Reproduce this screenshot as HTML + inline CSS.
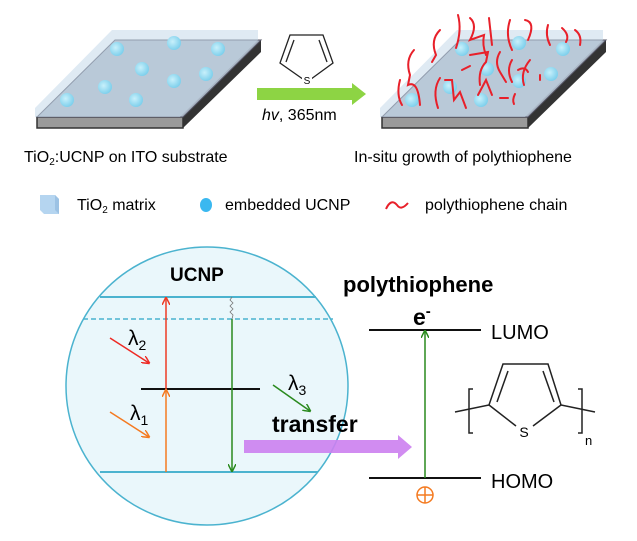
<!DOCTYPE html>
<html><head><meta charset="utf-8"><style>
body{margin:0;background:#fff;}
svg{display:block;font-family:"Liberation Sans",sans-serif;}
</style></head><body>
<svg width="637" height="541" viewBox="0 0 637 541" xmlns="http://www.w3.org/2000/svg">
<defs>
<radialGradient id="dot" cx="40%" cy="40%" r="60%"><stop offset="0" stop-color="#c8f0fb"/><stop offset="1" stop-color="#7fd0ec"/></radialGradient>
<marker id="ar" markerWidth="8" markerHeight="8" refX="7" refY="4" orient="auto" markerUnits="userSpaceOnUse"><path d="M0,0 L8,4 L0,8" fill="none" stroke="context-stroke" stroke-width="1.5"/></marker>
</defs>
<g>
<polygon points="261,40 261,52 183,128 183,117" fill="#333"/>
<polygon points="37,117 183,117 183,128 37,128" fill="#9a9a9a" stroke="#333" stroke-width="1.5"/>
<polygon points="115,40 261,40 183,117 37,117" fill="#aab6c4" stroke="#556" stroke-width="1"/>
<polygon points="112,30 258,30 258,40 180,117 35,117 35,108" fill="#c5d8ea" opacity="0.55"/>
</g>
<g fill="url(#dot)">
<circle cx="117" cy="49" r="7"/><circle cx="174" cy="43" r="7"/><circle cx="218" cy="49" r="7"/>
<circle cx="142" cy="69" r="7"/><circle cx="206" cy="74" r="7"/><circle cx="174" cy="81" r="7"/>
<circle cx="105" cy="87" r="7"/><circle cx="67" cy="100" r="7"/><circle cx="136" cy="100" r="7"/>
</g>
<g transform="translate(345,0)">
<polygon points="261,40 261,52 183,128 183,117" fill="#333"/>
<polygon points="37,117 183,117 183,128 37,128" fill="#9a9a9a" stroke="#333" stroke-width="1.5"/>
<polygon points="115,40 261,40 183,117 37,117" fill="#aab6c4" stroke="#556" stroke-width="1"/>
<polygon points="112,30 258,30 258,40 180,117 35,117 35,108" fill="#c5d8ea" opacity="0.55"/>
<g fill="url(#dot)">
<circle cx="117" cy="49" r="7"/><circle cx="174" cy="43" r="7"/><circle cx="218" cy="49" r="7"/>
<circle cx="142" cy="69" r="7"/><circle cx="206" cy="74" r="7"/><circle cx="174" cy="81" r="7"/>
<circle cx="105" cy="87" r="7"/><circle cx="67" cy="100" r="7"/><circle cx="136" cy="100" r="7"/>
</g>
</g>
<g fill="none" stroke="#e8202a" stroke-width="2" stroke-linecap="round">
<path d="M414,50 Q405,60 410,75 L408,85 Q418,80 420,105"/>
<path d="M400,80 Q396,95 402,105"/>
<path d="M440,30 Q430,40 436,55 L432,62"/>
<path d="M458,15 Q462,30 456,48"/>
<path d="M470,18 Q478,25 470,40 L484,35 Q482,45 486,55"/>
<path d="M489,18 L492,45"/>
<path d="M510,20 Q505,35 512,50"/>
<path d="M525,20 Q536,22 528,40"/>
<path d="M548,25 Q545,35 550,45"/>
<path d="M562,28 Q570,35 566,42"/>
<path d="M575,30 Q582,35 580,45"/>
<path d="M440,78 Q432,90 438,108"/>
<path d="M445,80 L452,80 L454,100 L460,92 L466,108"/>
<path d="M470,55 L488,52 L486,62 Q478,70 480,85"/>
<path d="M462,70 L470,66"/>
<path d="M478,95 L486,80 L492,95"/>
<path d="M500,52 Q494,62 500,72 L506,82"/>
<path d="M512,60 Q506,70 512,82"/>
<path d="M518,70 Q525,66 528,72"/>
<path d="M530,60 Q520,72 524,85"/>
<path d="M540,75 L540,80"/>
<path d="M500,98 L508,98"/>
<path d="M515,94 Q512,100 514,104"/>
</g>
<polygon points="257,88 352,88 352,83 366,94 352,105 352,100 257,100" fill="#8dd444"/>
<g fill="none" stroke="#222" stroke-width="1.3">
<polygon points="290,35 323,35 333,63 307,82 280,63"/>
<line x1="294" y1="40" x2="286" y2="62"/><line x1="319" y1="40" x2="327" y2="62"/>
</g>
<rect x="302" y="75" width="10" height="11" fill="#fff"/>
<text x="307" y="84" font-size="10" text-anchor="middle">S</text>
<text x="262" y="120" font-size="16"><tspan font-style="italic">hv</tspan>, 365nm</text>
<text x="24" y="162" font-size="16">TiO<tspan font-size="10" dy="3">2</tspan><tspan dy="-3">:UCNP on ITO substrate</tspan></text>
<text x="354" y="162" font-size="16">In-situ growth of polythiophene</text>
<polygon points="40,195 55,195 59,199 59,214 44,214 40,210" fill="#b5d5f0"/>
<polygon points="55,195 59,199 59,214 55,210" fill="#9cc2e4"/>
<text x="77" y="210" font-size="16">TiO<tspan font-size="10" dy="3">2</tspan><tspan dy="-3"> matrix</tspan></text>
<ellipse cx="206" cy="205" rx="6" ry="7" fill="#3ab8f0"/>
<text x="225" y="210" font-size="16">embedded UCNP</text>
<path d="M386,209 Q391,198 397,205 Q401,211 408,203" fill="none" stroke="#e8202a" stroke-width="2"/>
<text x="425" y="210" font-size="16">polythiophene chain</text>
<ellipse cx="207" cy="386" rx="141" ry="139" fill="#eaf7fb" stroke="#4bb3cf" stroke-width="1.5"/>
<line x1="100" y1="297" x2="316" y2="297" stroke="#4bb3cf" stroke-width="2"/>
<line x1="83" y1="319" x2="333" y2="319" stroke="#4bb3cf" stroke-width="1.5" stroke-dasharray="5,3"/>
<line x1="100" y1="472" x2="318" y2="472" stroke="#4bb3cf" stroke-width="2"/>
<line x1="141" y1="389" x2="260" y2="389" stroke="#111" stroke-width="2"/>
<text x="170" y="281" font-size="19" font-weight="bold">UCNP</text>
<line x1="166" y1="389" x2="166" y2="298" stroke="#ee3b24" stroke-width="1.5" marker-end="url(#ar)"/>
<line x1="166" y1="472" x2="166" y2="390" stroke="#f47a20" stroke-width="1.5" marker-end="url(#ar)"/>
<line x1="232" y1="319" x2="232" y2="471" stroke="#2a8a1e" stroke-width="1.5" marker-end="url(#ar)"/>
<path d="M232,297 l-2,3 l3,3 l-3,3 l3,3 l-3,3 l3,3 l-1,4" fill="none" stroke="#777" stroke-width="0.8"/>
<line x1="110" y1="338" x2="149" y2="363" stroke="#ee2a24" stroke-width="1.5" marker-end="url(#ar)"/>
<line x1="110" y1="412" x2="149" y2="437" stroke="#f47a20" stroke-width="1.5" marker-end="url(#ar)"/>
<line x1="273" y1="385" x2="310" y2="411" stroke="#2a8a1e" stroke-width="1.5" marker-end="url(#ar)"/>
<text x="128" y="345" font-size="21">λ<tspan font-size="14" dy="5">2</tspan></text>
<text x="130" y="420" font-size="21">λ<tspan font-size="14" dy="5">1</tspan></text>
<text x="288" y="390" font-size="21">λ<tspan font-size="14" dy="5">3</tspan></text>
<polygon points="244,440 398,440 398,435 412,447 398,459 398,453 244,453" fill="#cc80f0" opacity="0.9"/>
<text x="272" y="432" font-size="23" font-weight="bold">transfer</text>
<text x="343" y="292" font-size="22" font-weight="bold">polythiophene</text>
<text x="413" y="325" font-size="23" font-weight="bold">e<tspan font-size="15" dy="-9">-</tspan></text>
<line x1="369" y1="330" x2="481" y2="330" stroke="#111" stroke-width="2"/>
<line x1="369" y1="478" x2="481" y2="478" stroke="#111" stroke-width="2"/>
<text x="491" y="339" font-size="20">LUMO</text>
<text x="491" y="488" font-size="20">HOMO</text>
<line x1="425" y1="478" x2="425" y2="331" stroke="#2a8a1e" stroke-width="1.5" marker-end="url(#ar)"/>
<g stroke="#f47a20" stroke-width="1.5" fill="none">
<circle cx="425" cy="495" r="8"/><line x1="417" y1="495" x2="433" y2="495"/><line x1="425" y1="487" x2="425" y2="503"/>
</g>
<g fill="none" stroke="#222" stroke-width="1.5">
<polyline points="455,412 489,405 503,364 548,364 561,405 595,412"/>
<line x1="489" y1="405" x2="516" y2="426"/><line x1="561" y1="405" x2="533" y2="426"/>
<line x1="508" y1="371" x2="497" y2="402"/><line x1="543" y1="371" x2="554" y2="402"/>
<path d="M473,389 L469,389 L469,433 L473,433"/>
<path d="M578,389 L582,389 L582,433 L578,433"/>
</g>
<text x="524" y="437" font-size="14" text-anchor="middle">S</text>
<text x="585" y="445" font-size="13">n</text>
</svg>
</body></html>
